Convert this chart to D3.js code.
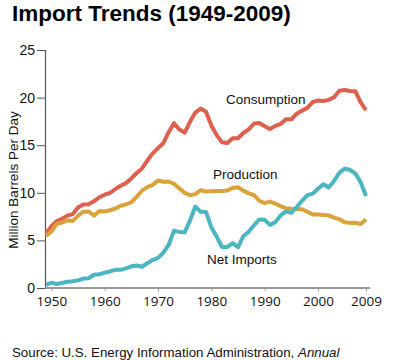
<!DOCTYPE html>
<html><head><meta charset="utf-8">
<script src="https://cdn.jsdelivr.net/npm/d3@7"></script>
<style>body{margin:0;background:#fff;} svg{display:block;}</style>
</head><body>
<svg id="c" width="400" height="360"></svg>
<script>
const years = d3.range(1949, 2010);
const consumption = [5.76,6.46,7.02,7.27,7.60,7.76,8.46,8.78,8.81,9.12,9.53,9.80,9.98,10.40,10.74,11.02,11.51,12.08,12.56,13.39,14.14,14.70,15.21,16.37,17.31,16.65,16.32,17.46,18.43,18.85,18.51,17.06,16.06,15.30,15.23,15.73,15.73,16.28,16.67,17.28,17.33,16.99,16.71,17.03,17.24,17.72,17.72,18.31,18.62,18.92,19.52,19.70,19.65,19.76,20.03,20.73,20.80,20.69,20.68,19.50,18.69];
const production = [5.48,5.91,6.72,6.87,7.11,7.03,7.58,8.01,8.04,7.60,8.09,8.04,8.17,8.35,8.64,8.77,9.01,9.58,10.22,10.60,10.83,11.30,11.16,11.19,10.95,10.46,10.01,9.74,9.86,10.27,10.14,10.17,10.18,10.20,10.25,10.51,10.58,10.23,9.94,9.77,9.16,8.91,9.08,8.87,8.58,8.39,8.32,8.30,8.27,8.01,7.73,7.73,7.67,7.63,7.40,7.23,6.90,6.84,6.85,6.73,7.20];
const netImports = [0.32,0.55,0.42,0.52,0.65,0.70,0.80,0.99,1.02,1.39,1.44,1.61,1.74,1.91,1.91,2.06,2.28,2.37,2.23,2.61,2.93,3.16,3.70,4.52,6.03,5.89,5.85,7.09,8.56,8.00,7.99,6.36,5.40,4.30,4.31,4.72,4.29,5.44,5.91,6.59,7.20,7.16,6.63,6.94,7.62,8.05,7.89,8.50,9.16,9.76,9.91,10.42,10.90,10.55,11.24,12.10,12.55,12.39,12.04,11.11,9.67];
const yTicks = [0,5,10,15,20,25];
const xTicks = [1950,1960,1970,1980,1990,2000,2009];
const seriesNames = ["Consumption","Production","Net Imports"];
const seriesColors = ["#E0604E","#D9A23A","#4BB5C1"];

const svg = d3.select("#c");
const x = d3.scaleLinear().domain([1949,2009]).range([46,366]);
const y = d3.scaleLinear().domain([0,25]).range([288,50]);

// title
svg.append("text").attr("x",12).attr("y",21)
  .style("font-family","'Liberation Sans',Arial,sans-serif").style("font-weight","bold").style("font-size","22.5px")
  .attr("fill","#000").text("Import Trends (1949-2009)");

// y axis
const ya = svg.append("g").attr("transform","translate(45,0)")
  .call(d3.axisLeft(y).tickValues(yTicks).tickSize(8).tickPadding(2));
ya.select(".domain").attr("stroke","#555").attr("stroke-width",1.2);
ya.selectAll(".tick line").attr("stroke","#555");
ya.selectAll("text").style("font-family","'Liberation Sans',Arial,sans-serif").style("font-size","14px").attr("fill","#111");

// x axis
const xa = svg.append("g").attr("transform","translate(0,288)")
  .call(d3.axisBottom(x).tickValues(xTicks).tickFormat(d3.format("d")).tickSize(3).tickSizeOuter(0).tickPadding(5));
xa.select(".domain").attr("d","M45,0H370").attr("stroke","#999").attr("stroke-width",2);
xa.selectAll(".tick line").attr("stroke","#999");
xa.selectAll("text").style("font-family","'Open Sans',sans-serif").style("font-size","13.5px").attr("fill","#111");

// y title
svg.append("text").attr("transform","translate(18,180) rotate(-90)").attr("text-anchor","middle")
  .style("font-family","'Liberation Sans',Arial,sans-serif").style("font-size","13.5px").attr("fill","#111")
  .text("Million Barrels Per Day");

// lines
const data = [consumption, production, netImports];
const line = d3.line().x((d,i)=>x(years[i])).y(d=>y(d));
data.forEach((s,k)=>{
  svg.append("path").datum(s).attr("d",line).attr("fill","none")
    .attr("stroke",seriesColors[k]).attr("stroke-width",4).attr("stroke-linejoin","round").attr("stroke-linecap","butt");
});

// labels
const labelPos = [[226,104],[213,179],[207,264]];
seriesNames.forEach((n,k)=>{
  svg.append("text").attr("x",labelPos[k][0]).attr("y",labelPos[k][1])
    .style("font-family","'Liberation Sans',Arial,sans-serif").style("font-size","13.5px").attr("fill","#111").text(n);
});

// source
const src = svg.append("text").attr("x",12).attr("y",357)
  .style("font-family","'Liberation Sans',Arial,sans-serif").style("font-size","13.3px").attr("fill","#111");
src.append("tspan").text("Source: U.S. Energy Information Administration, ");
src.append("tspan").style("font-style","italic").text("Annual");
</script>
</body></html>
